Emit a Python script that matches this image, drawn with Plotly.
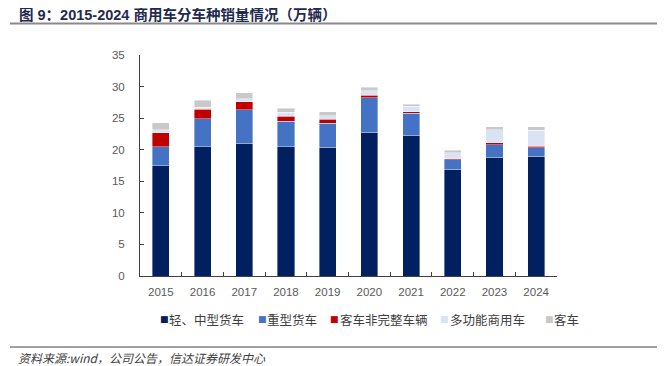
import plotly.graph_objects as go

years = ["2015", "2016", "2017", "2018", "2019", "2020", "2021", "2022", "2023", "2024"]
series_names = ["轻、中型货车", "重型货车", "客车非完整车辆", "多功能商用车", "客车"]
light_medium_trucks = [17.5, 20.5, 21.0, 20.5, 20.4, 22.8, 22.3, 16.9, 18.8, 19.0]
heavy_trucks = [3.0, 4.4, 5.3, 4.0, 3.8, 5.4, 3.5, 1.5, 2.0, 1.3]
incomplete_buses = [2.2, 1.5, 1.3, 0.8, 0.6, 0.4, 0.2, 0.2, 0.3, 0.25]
multipurpose = [0.5, 0.3, 0.5, 0.6, 0.6, 0.7, 0.9, 0.95, 2.1, 2.55]
buses = [1.1, 1.1, 0.9, 0.7, 0.6, 0.6, 0.3, 0.35, 0.4, 0.55]
colors = ["#002060", "#4472C4", "#C00000", "#DAE3F3", "#C9C9C9"]
y_ticks = [0, 5, 10, 15, 20, 25, 30, 35]

title_text = "图 9：2015-2024 商用车分车种销量情况（万辆）"
source_text = "资料来源:wind，公司公告，信达证券研发中心"

# page body has an 8px margin; the figure is sized so it ends at the window edge
OFF = 8
W, H = 665 - OFF, 366 - OFF
# plot area in window pixels
L, R, T, B = 140, 557, 55, 276

def px_x(p):
    return (p - OFF) / W

def px_y(p):
    return (366 - p) / H

fig = go.Figure()
for name, vals, c in zip(series_names,
                         [light_medium_trucks, heavy_trucks, incomplete_buses, multipurpose, buses],
                         colors):
    fig.add_trace(go.Bar(x=years, y=vals, name=name, marker_color=c,
                         marker_line=dict(color="rgba(255,255,255,0.55)", width=0.7),
                         showlegend=False))

annotations = [
    dict(text=source_text, x=px_x(16), y=px_y(357), xref="paper", yref="paper",
         xanchor="left", yanchor="middle", showarrow=False,
         font=dict(family="Noto Sans CJK SC", size=12, color="#404040", style="italic")),
]

# legend entries (marker + label) positioned as in the reference
marker_x = [158, 256, 328, 438, 543]
label_x = [167, 265, 338, 448, 552]
for name, c, mx, lx in zip(series_names, colors, marker_x, label_x):
    annotations.append(dict(
        text="■", x=px_x(mx), y=px_y(319), xref="paper", yref="paper",
        xanchor="left", yanchor="middle", showarrow=False,
        font=dict(family="DejaVu Sans", size=9, color=c)))
    annotations.append(dict(
        text=name, x=px_x(lx), y=px_y(319), xref="paper", yref="paper",
        xanchor="left", yanchor="middle", showarrow=False,
        font=dict(family="Noto Sans CJK SC", size=12.5, color="#404040")))

shapes = [
    dict(type="line", xref="paper", yref="paper", x0=px_x(10), x1=1,
         y0=px_y(23.5), y1=px_y(23.5), line=dict(color="#8A8A8A", width=2.2)),
    dict(type="line", xref="paper", yref="paper", x0=px_x(10), x1=1,
         y0=px_y(347), y1=px_y(347), line=dict(color="#404040", width=1)),
]

fig.update_layout(
    width=W, height=H,
    margin=dict(l=0, r=0, t=0, b=0, pad=0),
    barmode="stack", bargap=0.59,
    plot_bgcolor="white", paper_bgcolor="white",
    font=dict(family="Liberation Sans, Arial", size=11, color="#595959"),
    title=dict(text=title_text, x=px_x(19), xref="container", xanchor="left",
               y=px_y(15), yref="container", yanchor="middle",
               font=dict(family="Liberation Sans, Noto Sans CJK SC", size=14.5,
                         color="#1F2A50", weight="bold")),
    annotations=annotations, shapes=shapes,
    showlegend=False,
)
fig.update_xaxes(type="category", domain=[px_x(L), px_x(R)], automargin=False,
                 showline=True, linecolor="#404040", linewidth=1,
                 ticks="inside", tickson="boundaries", ticklen=4, tickcolor="#404040",
                 showgrid=False, tickfont=dict(size=11.5, color="#595959"),
                 ticklabelstandoff=5)
fig.update_yaxes(range=[0, 35], domain=[px_y(B), px_y(T)], tickvals=y_ticks, automargin=False,
                 showline=True, linecolor="#404040",
                 linewidth=1, ticks="inside", ticklen=4, tickcolor="#404040",
                 showgrid=False, zeroline=False, tickfont=dict(size=11.5, color="#595959"),
                 ticklabelstandoff=12)

fig.write_html("out.html")
